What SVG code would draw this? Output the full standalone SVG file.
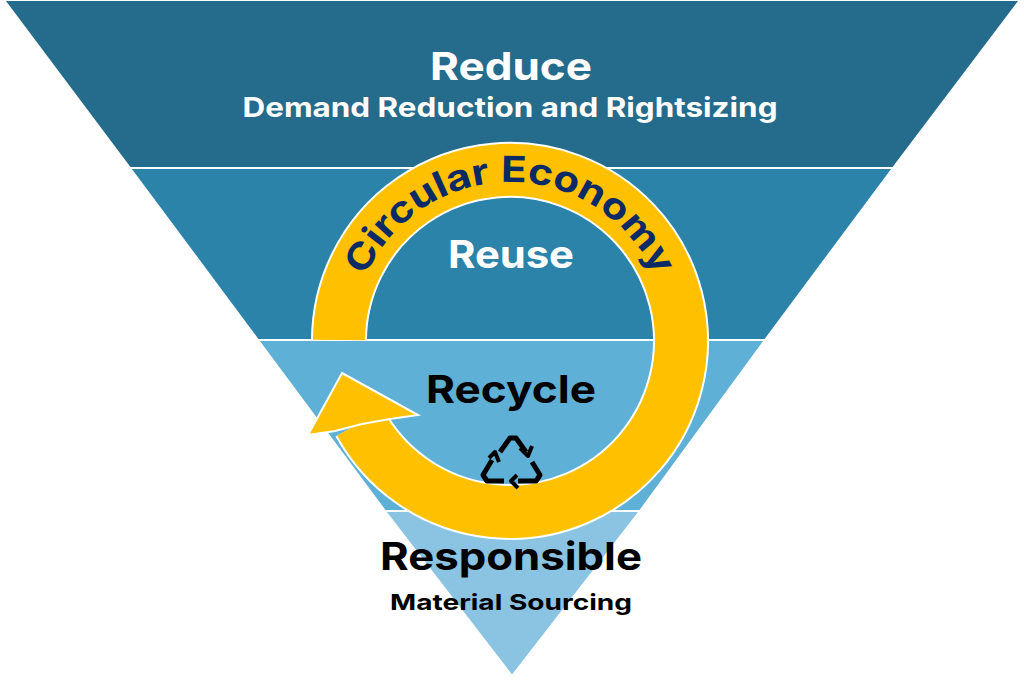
<svg xmlns="http://www.w3.org/2000/svg" xmlns:xlink="http://www.w3.org/1999/xlink" width="1024" height="683" viewBox="0 0 1024 683">
<style>
.t{font-family:Inter,"Open Sans",sans-serif;font-weight:bold;text-anchor:middle}
.band{stroke:#fff;stroke-width:2}
</style>
<defs>
<path id="arcText" d="M352,340 A158,158 0 0 1 668,340"/>
</defs>
<rect width="1024" height="683" fill="#fff"/>
<g id="reduce"><polygon class="band" points="4,0 1020,0 893,168 130,168" fill="#256b8c"/>
<text class="t" x="511" y="80" font-size="38" fill="#fff" textLength="162" lengthAdjust="spacingAndGlyphs">Reduce</text>
<text class="t" x="510" y="117" font-size="27" fill="#fff" textLength="535" lengthAdjust="spacingAndGlyphs">Demand Reduction and Rightsizing</text></g>
<g id="reuse"><polygon class="band" points="130,168 893,168 765,340 258,340" fill="#2b83aa"/>
<text class="t" x="511" y="268" font-size="38" fill="#fff" textLength="126" lengthAdjust="spacingAndGlyphs">Reuse</text></g>
<g id="recycle"><polygon class="band" points="258,340 765,340 640,511 385,511" fill="#5eb0d7"/></g>
<g id="responsible"><polygon class="band" points="385,511 640,511 512,676" fill="#8ac4e2"/>
<text class="t" x="511" y="570" font-size="38" fill="#000" textLength="262" lengthAdjust="spacingAndGlyphs">Responsible</text>
<text class="t" x="511" y="610" font-size="22" fill="#000" textLength="242" lengthAdjust="spacingAndGlyphs">Material Sourcing</text></g>
<g id="connectors">
<path d="M339,340 A171,171 0 1 1 360,423" fill="none" stroke="#fff" stroke-width="56"/>
<path d="M339,340 A171,171 0 1 1 360,423" fill="none" stroke="#ffc000" stroke-width="52"/>
<polygon points="342,373 418,415 390,419 362,424 335,431 308,435" fill="#ffc000" stroke="#fff" stroke-width="2"/>
</g>
<g id="circular">
<text class="t" font-size="36" fill="#0b2a66" textLength="365" lengthAdjust="spacingAndGlyphs"><textPath xlink:href="#arcText" href="#arcText" startOffset="50%">Circular Economy</textPath></text>
</g>
<g id="recycleLabel">
<text class="t" x="511" y="403" font-size="38" fill="#000" textLength="170" lengthAdjust="spacingAndGlyphs">Recycle</text>
<g fill="none" stroke="#000" stroke-width="5" stroke-linejoin="round">
<path d="M500,452 L510,438 L516,438 L526,452"/>
<path d="M520,448 L528,456 L532,446" stroke-width="4"/>
<path d="M492,460 L483,475 L487,481 L504,481"/>
<path d="M489,458 L495,452 L499,462" stroke-width="4"/>
<path d="M518,481 L536,481 L540,475 L532,462"/>
<path d="M517,475 L511,481 L518,488" stroke-width="4"/>
</g>
</g>
</svg>
